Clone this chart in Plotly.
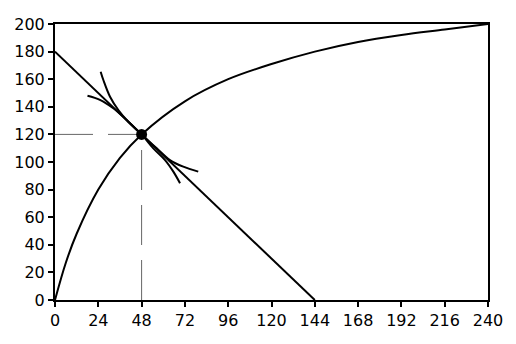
import plotly.graph_objects as go

# Budget line
budget_x = [0, 144]
budget_y = [180, 0]

# Concave curve
curve_x = [0, 6, 12, 24, 36, 48, 72, 96, 120, 144, 168, 192, 216, 240]
curve_y = [0, 27, 48, 80, 103, 120, 144, 160, 171, 180, 187, 192, 196, 200]

# Short steep curve through the point
steep_x = [25.3, 26.8, 30.5, 35.1, 40.6, 48, 54.5, 61, 65.6, 69.3]
steep_y = [165.4, 159.4, 147.3, 137.7, 129.2, 120, 109.9, 101.4, 93, 84.6]

# Short flatter curve through the point
flat_x = [18, 24.9, 32.3, 39.7, 48, 56.4, 63.7, 71.1, 79.4]
flat_y = [148, 145, 138.9, 130.4, 120, 109.9, 101.4, 96.6, 93]

# Equilibrium point
pt_x = [48]
pt_y = [120]

x_ticks = [0, 24, 48, 72, 96, 120, 144, 168, 192, 216, 240]
y_ticks = [0, 20, 40, 60, 80, 100, 120, 140, 160, 180, 200]

blk = "black"
fig = go.Figure()
fig.add_trace(go.Scatter(x=[0, pt_x[0]], y=[pt_y[0], pt_y[0]], mode="lines",
                         line=dict(color="#666", width=1, dash="38px,15px")))
fig.add_trace(go.Scatter(x=[pt_x[0], pt_x[0]], y=[0, pt_y[0]], mode="lines",
                         line=dict(color="#666", width=1, dash="40px,15px")))
fig.add_trace(go.Scatter(x=budget_x, y=budget_y, mode="lines", line=dict(color=blk, width=2)))
fig.add_trace(go.Scatter(x=curve_x, y=curve_y, mode="lines", line=dict(color=blk, width=2, shape="spline")))
fig.add_trace(go.Scatter(x=steep_x, y=steep_y, mode="lines", line=dict(color=blk, width=2, shape="spline")))
fig.add_trace(go.Scatter(x=flat_x, y=flat_y, mode="lines", line=dict(color=blk, width=2, shape="spline")))
fig.add_trace(go.Scatter(x=pt_x, y=pt_y, mode="markers", marker=dict(color=blk, size=11)))

axis_common = dict(showgrid=False, zeroline=False, showline=True, linecolor=blk, linewidth=2,
                   mirror=True, ticks="outside", ticklen=5, tickwidth=2, tickcolor=blk,
                   tickfont=dict(family="DejaVu Sans", size=16, color=blk))
fig.update_layout(
    width=516, height=344, showlegend=False,
    plot_bgcolor="white", paper_bgcolor="white",
    margin=dict(l=55, r=28, t=24, b=44),
    xaxis=dict(range=[0, 240], tickvals=x_ticks, **axis_common),
    yaxis=dict(range=[0, 200], tickvals=y_ticks, **axis_common),
)
fig.write_html("out.html")
